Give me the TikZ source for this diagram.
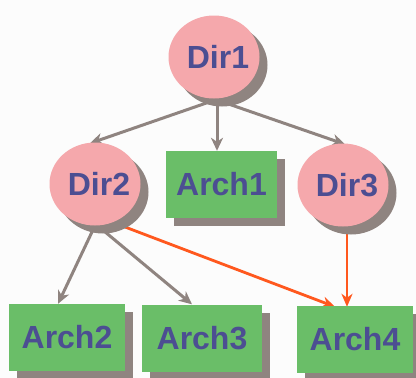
\documentclass[tikz,border=0pt]{standalone}
\usepackage{fontspec}
\setmainfont{Liberation Sans}
\usetikzlibrary{shapes.geometric,shadows,arrows.meta}
\definecolor{bgc}{RGB}{252,252,252}
\definecolor{pinkc}{RGB}{245,168,172}
\definecolor{greenc}{RGB}{106,190,104}
\definecolor{shadc}{RGB}{143,132,128}
\definecolor{textc}{RGB}{76,78,146}
\definecolor{orangec}{RGB}{255,88,30}
\pgfdeclarelayer{background}
\pgfdeclarelayer{edges}
\pgfsetlayers{background,edges,main}
\newcommand{\shifttext}[1]{\hspace*{8pt}\makebox[0pt]{#1}}
\tikzset{
  shad/.style={drop shadow={shadow xshift=8pt,shadow yshift=-8pt,fill=shadc,opacity=1}},
  dirnode/.style={ellipse,fill=pinkc,inner sep=0pt,minimum width=91pt,minimum height=83pt,shad,
    text=textc,font=\bfseries\fontsize{32}{36}\selectfont},
  archnode/.style={rectangle,fill=greenc,inner sep=0pt,minimum height=67pt,shad,
    text=textc,font=\bfseries\fontsize{32}{36}\selectfont},
  greyarrow/.style={draw=shadc,line width=3pt,-{Stealth[length=13pt,width=12pt,inset=4pt]}},
  orangearrow/.style={draw=orangec,line width=2.8pt,-{Stealth[length=13pt,width=11pt,inset=4pt]}}
}
\begin{document}
\begin{tikzpicture}[x=1pt,y=-1pt]
\begin{pgfonlayer}{background}
\fill[bgc] (0,0) rectangle (416,378);
\end{pgfonlayer}
\useasboundingbox (0,0) rectangle (416,378);
\node[dirnode] (Dir1) at (214,57) {\shifttext{Dir1}};
\node[dirnode] (Dir2) at (95,184) {\shifttext{Dir2}};
\node[dirnode] (Dir3) at (343,185) {\shifttext{Dir3}};
\node[archnode,minimum width=111pt] (Arch1) at (221.5,184.5) {Arch1};
\node[archnode,minimum width=116pt] (Arch2) at (67,337.5) {Arch2};
\node[archnode,minimum width=120pt] (Arch3) at (202,338) {Arch3};
\node[archnode,minimum width=116pt] (Arch4) at (355,339.5) {Arch4};
\begin{pgfonlayer}{edges}
\draw[greyarrow] ([xshift=-1pt,yshift=-2pt]Dir1.south) -- ([xshift=-5pt,yshift=-1pt]Dir2.north);
\draw[greyarrow] ([xshift=3pt,yshift=-2pt]Dir1.south) -- ([xshift=-4.5pt]Arch1.north);
\draw[greyarrow] ([xshift=5pt,yshift=-2pt]Dir1.south) -- ([xshift=2pt,yshift=-1pt]Dir3.north);
\draw[greyarrow] ([xshift=-1pt,yshift=-2pt]Dir2.south) -- ([xshift=-9pt]Arch2.north);
\draw[greyarrow] ([xshift=5pt,yshift=-2pt]Dir2.south) -- ([xshift=-10pt]Arch3.north);
\draw[orangearrow] (Dir2.-65) -- ([xshift=-20pt,yshift=-1pt]Arch4.north);
\draw[orangearrow] ([xshift=4pt]Dir3.south) -- ([xshift=-8pt,yshift=-1pt]Arch4.north);
\end{pgfonlayer}
\end{tikzpicture}
\end{document}
